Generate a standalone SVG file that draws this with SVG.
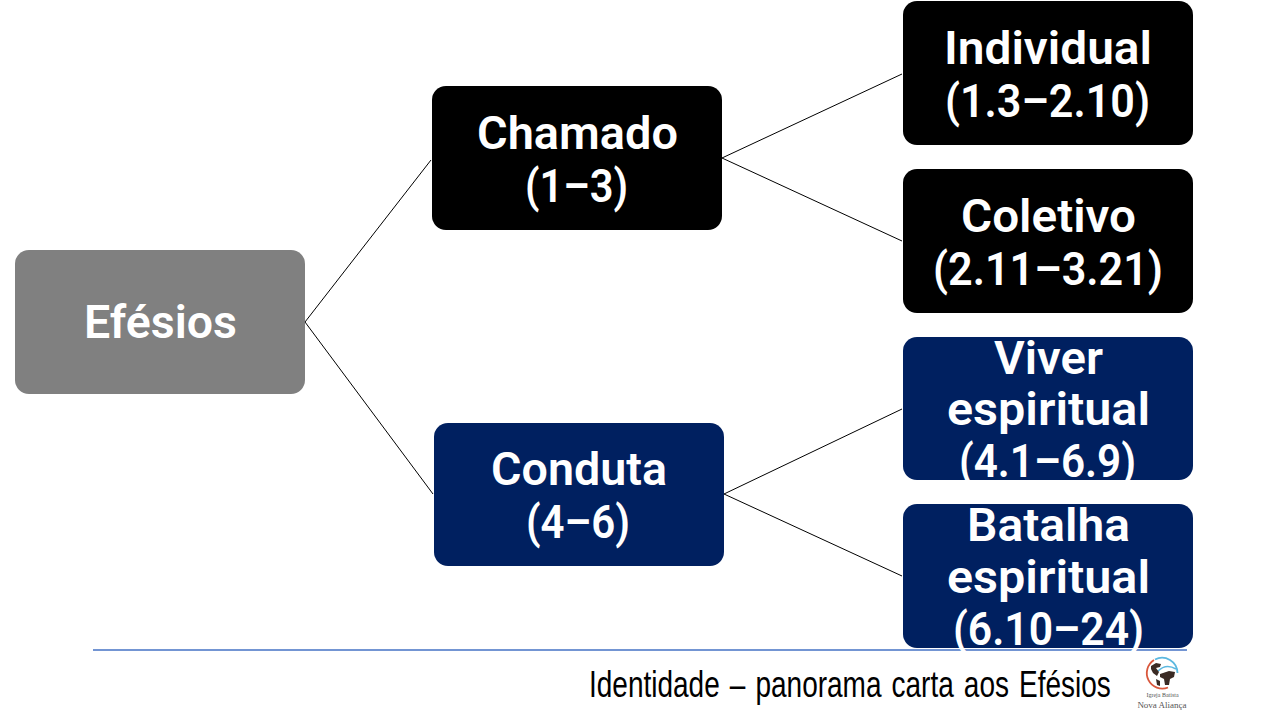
<svg xmlns="http://www.w3.org/2000/svg" width="1280" height="720" viewBox="0 0 1280 720">
<style>
.box{stroke:none}
.k{fill:#000}.n{fill:#002060}.g{fill:#808080}
.t{font-family:"Roboto","Liberation Sans",sans-serif;font-weight:600;font-size:46px;fill:#fff;text-anchor:middle}
.c{stroke:#000;stroke-width:1;fill:none}
.f{font-family:"Liberation Sans",sans-serif;font-size:37px;fill:#000;word-spacing:3px}
.l{font-family:"Liberation Serif",serif;fill:#555;text-anchor:middle}
</style>
<rect width="1280" height="720" fill="#fff"/>
<g id="connectors">
<line class="c" x1="305" y1="322" x2="431" y2="160"/>
<line class="c" x1="305" y1="322" x2="433" y2="494"/>
<line class="c" x1="722" y1="158" x2="902" y2="74"/>
<line class="c" x1="722" y1="158" x2="902" y2="241"/>
<line class="c" x1="724" y1="494" x2="902" y2="409"/>
<line class="c" x1="724" y1="494" x2="902" y2="576"/>
</g>
<line id="footer-rule" x1="93" y1="650" x2="1187" y2="650" stroke="#4472c4" stroke-width="1.5"/>
<g id="efesios"><rect class="box g" x="15" y="250" width="290" height="144" rx="14"/><text class="t" x="160.500" y="338" textLength="153" lengthAdjust="spacingAndGlyphs">Efésios</text></g>
<g id="chamado"><rect class="box k" x="432" y="86" width="290" height="144" rx="14"/><text class="t" x="577.500" y="149" textLength="201" lengthAdjust="spacingAndGlyphs">Chamado</text><text class="t" x="576.500" y="202" textLength="103" lengthAdjust="spacingAndGlyphs">(1–3)</text></g>
<g id="conduta"><rect class="box n" x="434" y="423" width="290" height="143" rx="14"/><text class="t" x="579" y="485" textLength="176" lengthAdjust="spacingAndGlyphs">Conduta</text><text class="t" x="578" y="538" textLength="104" lengthAdjust="spacingAndGlyphs">(4–6)</text></g>
<g id="individual"><rect class="box k" x="903" y="1" width="290" height="144" rx="14"/><text class="t" x="1048" y="64" textLength="208" lengthAdjust="spacingAndGlyphs">Individual</text><text class="t" x="1047.500" y="117" textLength="205" lengthAdjust="spacingAndGlyphs">(1.3–2.10)</text></g>
<g id="coletivo"><rect class="box k" x="903" y="169" width="290" height="144" rx="14"/><text class="t" x="1048.500" y="232" textLength="175" lengthAdjust="spacingAndGlyphs">Coletivo</text><text class="t" x="1048" y="285" textLength="230" lengthAdjust="spacingAndGlyphs">(2.11–3.21)</text></g>
<g id="viver"><rect class="box n" x="903" y="337" width="290" height="143" rx="14"/><text class="t" x="1048.500" y="374" textLength="109" lengthAdjust="spacingAndGlyphs">Viver</text><text class="t" x="1048.500" y="425" textLength="203" lengthAdjust="spacingAndGlyphs">espiritual</text><text class="t" x="1047.500" y="477" textLength="177" lengthAdjust="spacingAndGlyphs">(4.1–6.9)</text></g>
<g id="batalha"><rect class="box n" x="903" y="504" width="290" height="144" rx="14"/><text class="t" x="1048.500" y="541" textLength="163" lengthAdjust="spacingAndGlyphs">Batalha</text><text class="t" x="1048.500" y="593" textLength="203" lengthAdjust="spacingAndGlyphs">espiritual</text><text class="t" x="1048.500" y="645" textLength="191" lengthAdjust="spacingAndGlyphs">(6.10–24)</text></g>
<text class="f" transform="translate(589 697) scale(.757 1)">Identidade – panorama carta aos Efésios</text>
<g id="logo">
<circle cx="1162" cy="673" r="14.500" fill="#fff"/>
<path d="M1154 660A15.500 15.500 0 0 0 1168 687.500" fill="none" stroke="#d9573c" stroke-width="1.8"/>
<path d="M1155 659.500A15.500 15.500 0 0 1 1177.500 673" fill="none" stroke="#5bb8e0" stroke-width="1.8"/>
<path d="M1158 671Q1166 663 1176 669" fill="none" stroke="#5bb8e0" stroke-width="1.5"/>
<path d="M1151 666l5-3 5 1-1 3-4 1 3 4-2 4-4-3-2-4z" fill="#3a2a24"/>
<path d="M1160 674l9-3 6 1-1 5-4 2-1 6-4 0-1-6-4-2z" fill="#3a2a24"/>
<path d="M1156 679l4 2 0 5-3-1z" fill="#3a2a24"/>
<text class="l" x="1162.500" y="697" font-size="6">Igreja Batista</text>
<text class="l" x="1162" y="708" font-size="9">Nova Aliança</text>
</g>
</svg>
